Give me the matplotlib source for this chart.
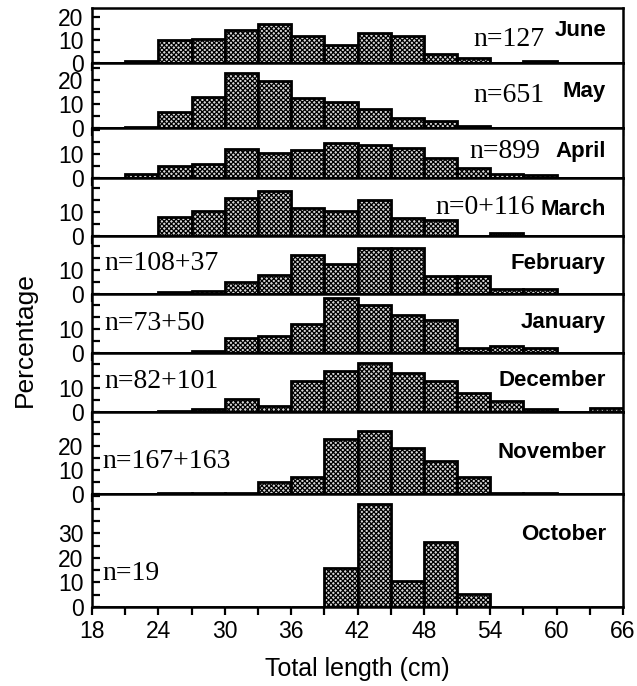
import matplotlib
matplotlib.use("Agg")
import matplotlib.pyplot as plt
import numpy as np
from matplotlib.ticker import MultipleLocator, FixedLocator

# bin left edges, 3 cm classes from 18 to 66
bin_edges = np.arange(18, 66, 3)

months = ["June", "May", "April", "March", "February",
          "January", "December", "November", "October"]
n_labels = ["n=127", "n=651", "n=899", "n=0+116", "n=108+37",
            "n=73+50", "n=82+101", "n=167+163", "n=19"]

june = [0, 1, 10, 10.5, 14.5, 17, 12, 8, 13, 12, 4, 2, 0, 0.7, 0, 0]
may = [0, 0.5, 6.8, 13, 23, 19.7, 12.5, 10.7, 7.8, 4.2, 2.8, 0.7, 0, 0, 0, 0]
april = [0, 1.7, 5.1, 6, 12.2, 10.3, 11.8, 14.9, 13.7, 12.8, 8.3, 4.4, 1.7, 1.4, 0, 0]
march = [0, 0, 7.9, 10.3, 15.8, 18.7, 11.7, 10.4, 14.9, 7.5, 6.5, 0, 1.2, 0, 0, 0]
february = [0, 0, 0.7, 1.2, 4.9, 8, 16, 12.6, 19, 19, 7.6, 7.6, 2, 2, 0, 0]
january = [0, 0, 0, 1, 6.4, 7, 12, 23, 19.9, 15.9, 13.8, 2.2, 3.1, 2.2, 0, 0]
december = [0, 0, 0.4, 1.4, 5.3, 2.5, 12.9, 16.9, 20.4, 16, 12.8, 8, 4.4, 1.4, 0, 1.5]
november = [0, 0, 0.3, 0.5, 0.5, 5, 7, 23, 26, 19, 13.5, 7, 0.5, 0.5, 0, 0]
october = [0, 0, 0, 0, 0, 0, 0, 15.8, 42.1, 10.5, 26.3, 5.3, 0, 0, 0, 0]

series = [june, may, april, march, february, january, december, november, october]
ytops = [24, 27, 21, 24, 24, 24.5, 24.5, 34, 46]
ylabels = [[0, 10, 20], [0, 10, 20], [0, 10], [0, 10], [0, 10],
           [0, 10], [0, 10], [0, 10, 20], [0, 10, 20, 30]]

sans = ["Liberation Sans", "DejaVu Sans"]
serif = ["Liberation Serif", "DejaVu Serif"]
plt.rcParams["hatch.linewidth"] = 0.9

W, H = 637, 686
fig = plt.figure(figsize=(W / 100, H / 100), dpi=100)

left, right = 92, 623
top = 8
baselines = [63, 128, 178, 236, 294, 353, 412, 494, 607]

# where the month and n texts sit (pixels)
month_y = [30, 92, 152, 209, 263, 322, 381, 452, 535]
n_pos = [(545, 40, "right"), (545, 96, "right"), (540, 152, "right"),
         (535, 207, "right"), (104, 264, "left"), (104, 323, "left"),
         (104, 382, "left"), (102, 461, "left"), (102, 573, "left")]

prev = top
axes = []
for i, vals in enumerate(series):
    y0 = baselines[i]
    ax = fig.add_axes([left / W, 1 - y0 / H, (right - left) / W, (y0 - prev) / H])
    prev = y0
    ax.bar(bin_edges, vals, width=3, align="edge", facecolor="#d8d8d8",
           edgecolor="black", hatch="xxxxxxx", linewidth=2)
    ax.set_xlim(18, 66)
    ax.set_ylim(0, ytops[i])
    for s in ax.spines.values():
        s.set_linewidth(1.8)
    ax.yaxis.set_major_locator(FixedLocator(ylabels[i]))
    ax.yaxis.set_minor_locator(MultipleLocator(5))
    ax.tick_params(axis="y", which="both", direction="in", length=6, width=1.6,
                   labelsize=16.5, pad=6)
    ax.xaxis.set_major_locator(MultipleLocator(6))
    ax.xaxis.set_minor_locator(MultipleLocator(3))
    ax.tick_params(axis="x", which="both", direction="out", length=6, width=1.6,
                   labelsize=16.5)
    if i < len(series) - 1:
        ax.tick_params(axis="x", labelbottom=False)
    for lab in ax.get_yticklabels() + ax.get_xticklabels():
        lab.set_family(sans)
    axes.append(ax)

    fig.text(606 / W, 1 - month_y[i] / H, months[i], ha="right", va="center",
             fontsize=16, fontweight="bold", family=sans)
    nx, ny, nha = n_pos[i]
    fig.text(nx / W, 1 - ny / H, n_labels[i], ha=nha, va="center",
             fontsize=20, family=serif)

axes[-1].set_xlabel("Total length (cm)", fontsize=18, family=sans, labelpad=10)
fig.text(25 / W, 1 - 340 / H, "Percentage", rotation=90, ha="center", va="center",
         fontsize=19, family=sans)

fig.savefig("out.png", dpi=100)
